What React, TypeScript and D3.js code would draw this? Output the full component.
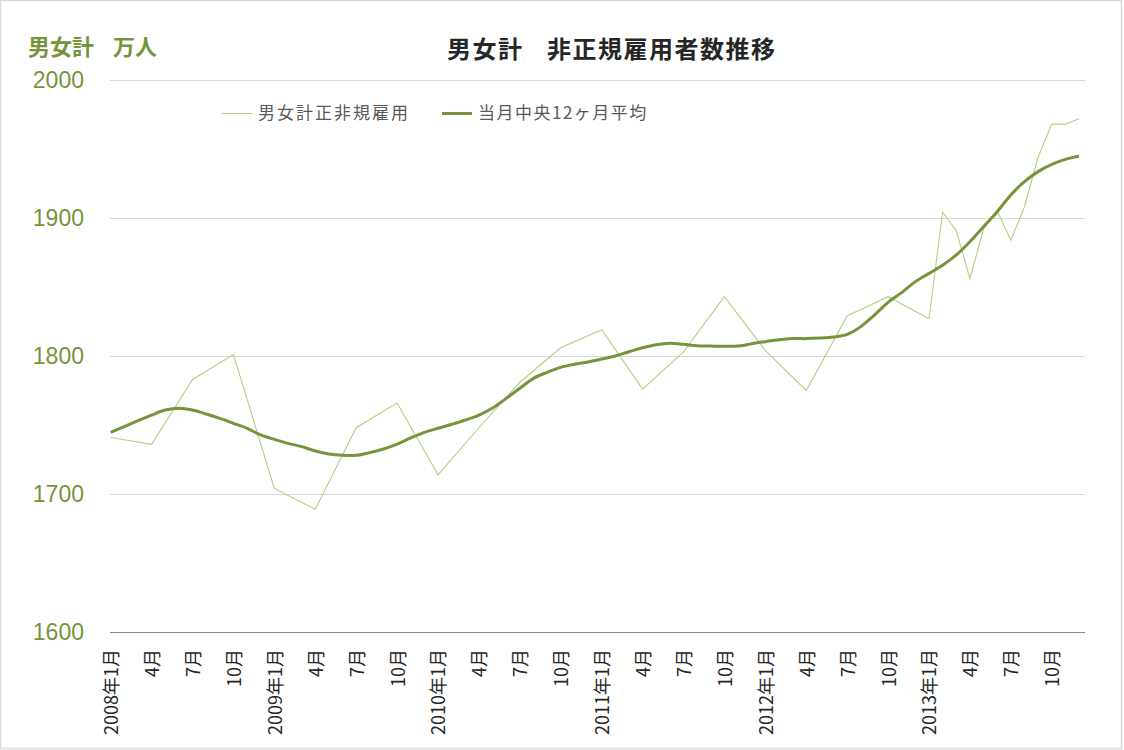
import React from "react";
import * as d3 from "d3";

// ---- data ----
const rawDates = [
  "2008-01", "2008-04", "2008-07", "2008-10",
  "2009-01", "2009-04", "2009-07", "2009-10",
  "2010-01", "2010-04", "2010-07", "2010-10",
  "2011-01", "2011-04", "2011-07", "2011-10",
  "2012-01", "2012-04", "2012-07", "2012-10",
  "2013-01", "2013-02", "2013-03", "2013-04", "2013-05", "2013-06",
  "2013-07", "2013-08", "2013-09", "2013-10", "2013-11", "2013-12",
];
const rawValues = [
  1741, 1736, 1783, 1801,
  1704, 1689, 1748, 1766,
  1714, 1748, 1781, 1806,
  1819, 1776, 1803, 1843,
  1804, 1775, 1829, 1843,
  1827, 1904, 1891, 1856, 1892, 1905,
  1884, 1908, 1944, 1968, 1968, 1972,
];
// monthly, 2008-01 .. 2013-12
const avgValues = [
  1744.7, 1748.8, 1753.1, 1757.2, 1760.9, 1762.1, 1760.9, 1758, 1754.8, 1751.2, 1747.6, 1742.8,
  1739.6, 1736.7, 1734.3, 1731.2, 1729, 1728, 1728, 1730, 1732.6, 1736.2, 1740.6, 1744.7,
  1747.6, 1750.5, 1753.6, 1757.2, 1762.3, 1769.3, 1776.6, 1783.8, 1788.2, 1791.8, 1794, 1795.7,
  1797.8, 1800, 1803.1, 1806, 1808.2, 1809.2, 1808.5, 1807.5, 1807.2, 1807, 1807.2, 1808.9,
  1810.4, 1811.8, 1812.6, 1812.6, 1813, 1813.8, 1815.7, 1821.3, 1829.7, 1838.9, 1845.9, 1853.9,
  1859.9, 1865.7, 1873.2, 1882.8, 1893.7, 1904.6, 1916.7, 1926.3, 1933.6, 1938.9, 1942.5, 1944.7,
];
const xTickLabels = [
  "2008年1月", "4月", "7月", "10月",
  "2009年1月", "4月", "7月", "10月",
  "2010年1月", "4月", "7月", "10月",
  "2011年1月", "4月", "7月", "10月",
  "2012年1月", "4月", "7月", "10月",
  "2013年1月", "4月", "7月", "10月",
];
const yTicks = [1600, 1700, 1800, 1900, 2000];
const seriesNames = ["男女計正非規雇用", "当月中央12ヶ月平均"];

const W = 1124;
const H = 750;
const plotLeft = 110.7;
const plotRight = 1079;
const gridRight = 1085;
const plotTop = 80;
const plotBottom = 632;

const thinColor = "#b3cf86";
const thickColor = "#77933c";
const green = "#77933c";
const cjk = "'Noto Sans CJK JP', 'Noto Sans', sans-serif";
const num = "'Liberation Sans', Arial, sans-serif";

function monthIndex(s: string) {
  const [y, m] = s.split("-").map(Number);
  return (y - 2008) * 12 + (m - 1);
}

export default function App() {
  const x = d3.scaleLinear().domain([0, avgValues.length - 1]).range([plotLeft, plotRight]);
  const y = d3.scaleLinear().domain([1600, 2000]).range([plotBottom, plotTop]);

  const thinLine = d3
    .line<[number, number]>()
    .x((d) => x(d[0]))
    .y((d) => y(d[1]));
  const thickLine = d3
    .line<number>()
    .x((_, i) => x(i))
    .y((d) => y(d))
    .curve(d3.curveCatmullRom.alpha(0.5));

  const rawPts: [number, number][] = rawDates.map((d, i) => [monthIndex(d), rawValues[i]]);

  return (
    <svg
      width={W}
      height={H}
      style={{ position: "absolute", left: 0, top: 0, background: "#fff" }}
    >
      <rect x={0.5} y={0.5} width={W - 3} height={H - 2} fill="#fff" stroke="#d9d9d9" strokeWidth={1.5} />

      {/* title */}
      <text x={447} y={58} fontFamily={cjk} fontSize={24} fontWeight="bold" letterSpacing={1.5} fill="#262626">
        男女計
      </text>
      <text x={547} y={58} fontFamily={cjk} fontSize={24} fontWeight="bold" letterSpacing={1.5} fill="#262626">
        非正規雇用者数推移
      </text>

      {/* y axis title */}
      <text x={28} y={55} fontFamily={cjk} fontSize={22} fontWeight="bold" fill={green}>
        男女計
      </text>
      <text x={113} y={55} fontFamily={cjk} fontSize={22} fontWeight="bold" fill={green}>
        万人
      </text>

      {/* gridlines */}
      {yTicks.map((t) => (
        <line
          key={t}
          x1={plotLeft - 0.7}
          x2={gridRight}
          y1={Math.round(y(t)) + 0.5}
          y2={Math.round(y(t)) + 0.5}
          stroke={t === 1600 ? "#868686" : "#d9d9d9"}
          strokeWidth={1}
        />
      ))}

      {/* y tick labels */}
      {yTicks.map((t) => (
        <text
          key={t}
          x={84}
          y={y(t)}
          dy="0.36em"
          textAnchor="end"
          fontFamily={num}
          fontSize={23}
          fill={green}
        >
          {t}
        </text>
      ))}

      {/* x tick labels */}
      {xTickLabels.map((lab, i) => {
        const xi = x(i * 3);
        return (
          <text
            key={i}
            transform={`translate(${xi + 1},${649}) rotate(-90)`}
            textAnchor="end"
            dy="0.36em"
            fontFamily={cjk}
            fontSize={18}
            fill="#262626"
          >
            {lab}
          </text>
        );
      })}

      {/* series */}
      <path d={thinLine(rawPts) || ""} fill="none" stroke={thinColor} strokeWidth={1.1} />
      <path d={thickLine(avgValues) || ""} fill="none" stroke={thickColor} strokeWidth={3} strokeLinejoin="round" />

      {/* legend */}
      <line x1={222} x2={252} y1={113.5} y2={113.5} stroke={thinColor} strokeWidth={1.1} />
      <text x={258} y={113} dy="0.36em" fontFamily={cjk} fontSize={17} letterSpacing={2} fill="#595959">
        {seriesNames[0]}
      </text>
      <line x1={442} x2={472} y1={113.5} y2={113.5} stroke={thickColor} strokeWidth={3} />
      <text x={478} y={113} dy="0.36em" fontFamily={cjk} fontSize={17} letterSpacing={1.5} fill="#595959">
        {seriesNames[1]}
      </text>
    </svg>
  );
}
